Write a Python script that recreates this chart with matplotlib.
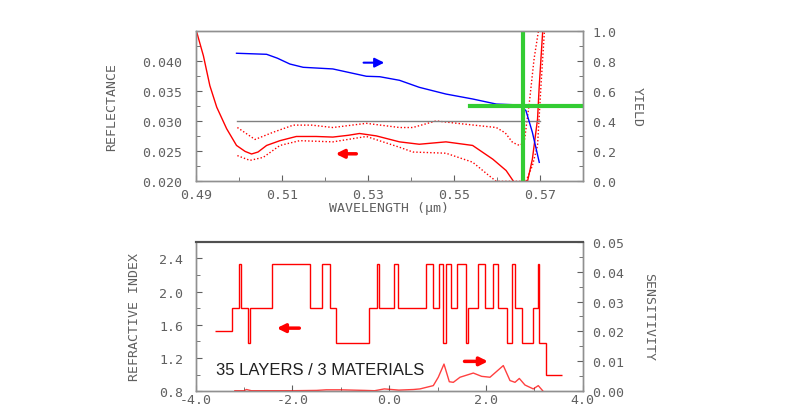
import matplotlib
matplotlib.use("Agg")
import matplotlib.pyplot as plt
from matplotlib.ticker import MultipleLocator, FixedLocator, FormatStrFormatter

# ---- top panel: reflectance / yield vs wavelength ----
wl_main = [0.4898, 0.4918, 0.4933, 0.4949, 0.4972, 0.4995, 0.5015, 0.5030, 0.5045,
           0.5065, 0.5096, 0.5134, 0.5180, 0.5219, 0.5255, 0.5281, 0.5320, 0.5374,
           0.5420, 0.5482, 0.5544, 0.5591, 0.5622, 0.5640, 0.5655, 0.5672, 0.5683,
           0.5695, 0.5699, 0.5707, 0.5750]
refl_main = [0.0460, 0.0409, 0.0359, 0.0323, 0.0287, 0.0259, 0.0249, 0.02447, 0.0248,
             0.0259, 0.0267, 0.0274, 0.0274, 0.0273, 0.0276, 0.0279, 0.0275, 0.0265,
             0.0261, 0.0265, 0.0259, 0.0236, 0.0217, 0.0198, 0.0195, 0.0200, 0.0236,
             0.0303, 0.0359, 0.0450, 0.0450]

wl_upper = [0.4997, 0.5038, 0.5080, 0.5127, 0.5170, 0.5219, 0.5297, 0.5374, 0.5405,
            0.5459, 0.5521, 0.5599, 0.5620, 0.5637, 0.5653, 0.5664, 0.5676, 0.5687,
            0.5697]
refl_upper = [0.0289, 0.0269, 0.0281, 0.0293, 0.0293, 0.0289, 0.0296, 0.0289, 0.0289,
              0.0300, 0.0295, 0.0289, 0.0280, 0.0264, 0.0259, 0.0264, 0.0331, 0.0404,
              0.0450]

wl_lower = [0.4997, 0.5026, 0.5057, 0.5096, 0.5142, 0.5219, 0.5297, 0.5374, 0.5405,
            0.5482, 0.5544, 0.5583, 0.5599, 0.5668, 0.5683, 0.5695, 0.5703, 0.5711]
refl_lower = [0.0242, 0.0234, 0.0239, 0.0259, 0.0267, 0.0265, 0.0274, 0.0256, 0.0248,
              0.0246, 0.0231, 0.0208, 0.0199, 0.0199, 0.0225, 0.0259, 0.0359, 0.0450]

wl_yield = [0.4995, 0.5065, 0.5090, 0.5119, 0.5150, 0.5219, 0.5297, 0.5328, 0.5374,
            0.5420, 0.5482, 0.5544, 0.5599, 0.5653, 0.5668, 0.5683, 0.5699]
yield_vals = [0.853, 0.846, 0.820, 0.781, 0.759, 0.748, 0.699, 0.696, 0.672,
              0.625, 0.580, 0.547, 0.513, 0.507, 0.469, 0.324, 0.123]

target_refl = 0.030
target_wl = [0.4997, 0.5700]
cross_wl = 0.5662
cross_yield = 0.5
cross_span = [0.5538, 0.5800]

wl_ticks = [0.49, 0.51, 0.53, 0.55, 0.57]
wl_minor = [0.50, 0.52, 0.54, 0.56, 0.58]
refl_ticks = [0.020, 0.025, 0.030, 0.035, 0.040]

# ---- bottom panel: index profile / sensitivity ----
layer_edges = [-3.601, -3.256, -3.098, -3.070, -2.912, -2.884, -2.416, -1.637, -1.396,
               -1.224, -1.100, -0.411, -0.259, -0.205, 0.095, 0.188, 0.760, 0.912,
               1.036, 1.105, 1.167, 1.270, 1.394, 1.587, 1.636, 1.829, 1.980, 2.139,
               2.256, 2.428, 2.532, 2.601, 2.739, 2.966, 3.076, 3.104, 3.235, 3.565]
layer_index = [1.52, 1.80, 2.33, 1.80, 1.38, 1.80, 2.33, 1.80, 2.33, 1.80, 1.38, 1.80,
               2.33, 1.80, 2.33, 1.80, 2.33, 1.80, 2.33, 1.38, 2.33, 1.80, 2.33, 1.38,
               1.80, 2.33, 1.80, 2.33, 1.80, 1.38, 2.33, 1.80, 1.38, 1.80, 2.33, 1.38,
               1.00]

sens_x = [-3.19, -3.0, -2.95, -2.85, -2.5, -2.0, -1.5, -1.3, -1.0, -0.5, -0.3, -0.1,
          0.2, 0.5, 0.637, 0.912, 1.015, 1.133, 1.243, 1.326, 1.464, 1.739, 1.912,
          2.084, 2.359, 2.497, 2.601, 2.690, 2.807, 2.979, 3.082, 3.173]
sens_y = [0.0002, 0.0002, 0.0006, 0.0002, 0.0002, 0.0002, 0.0003, 0.0005, 0.0005,
          0.0003, 0.0002, 0.0008, 0.0004, 0.0006, 0.0008, 0.0019, 0.0047, 0.0091,
          0.0032, 0.0030, 0.0047, 0.0061, 0.0050, 0.0047, 0.0086, 0.0036, 0.0030,
          0.0043, 0.0021, 0.0008, 0.0019, 0.0002]

tick_color = "#606060"
mono = "DejaVu Sans Mono"
fs = 9.5

fig = plt.figure(figsize=(7.97, 4.14), dpi=100)
ax1 = fig.add_axes([0.2455, 0.5611, 0.4856, 0.3609])
ax1r = ax1.twinx()
ax2 = fig.add_axes([0.2455, 0.0524, 0.4856, 0.3614])
ax2r = ax2.twinx()


def style(ax, color="#909090"):
    for s in ax.spines.values():
        s.set_color(color)
        s.set_linewidth(1.0)
    ax.tick_params(which="both", direction="in", colors=tick_color, labelsize=fs)
    ax.tick_params(which="major", length=4)
    ax.tick_params(which="minor", length=3)
    for lab in ax.get_xticklabels() + ax.get_yticklabels():
        lab.set_family(mono)


# top panel
ax1.plot(wl_main, refl_main, color="red", lw=1.0)
ax1.plot(wl_upper, refl_upper, color="red", lw=1.0, ls=(0, (1, 1.5)))
ax1.plot(wl_lower, refl_lower, color="red", lw=1.0, ls=(0, (1, 1.5)))
ax1.plot(target_wl, [target_refl, target_refl], color="#808080", lw=1.0)
ax1.set_xlim(0.49, 0.58)
ax1.set_ylim(0.020, 0.045)
ax1.xaxis.set_major_locator(FixedLocator(wl_ticks))
ax1.xaxis.set_minor_locator(FixedLocator(wl_minor))
ax1.xaxis.set_major_formatter(FormatStrFormatter("%.2f"))
ax1.yaxis.set_major_locator(FixedLocator(refl_ticks))
ax1.yaxis.set_minor_locator(MultipleLocator(0.0025))
ax1.yaxis.set_major_formatter(FormatStrFormatter("%.3f"))
ax1.annotate("", xy=(0.5219, 0.0245), xytext=(0.5280, 0.0245),
             arrowprops=dict(arrowstyle="-|>", color="red", lw=2.5, mutation_scale=12))

ax1r.plot(wl_yield, yield_vals, color="blue", lw=1.0)
ax1r.plot([cross_wl, cross_wl], [0, 1.0], color="#33cc33", lw=3)
ax1r.plot(cross_span, [cross_yield, cross_yield], color="#33cc33", lw=3)
ax1r.set_ylim(0, 1.0)
ax1r.yaxis.set_major_locator(MultipleLocator(0.2))
ax1r.yaxis.set_minor_locator(MultipleLocator(0.1))
ax1r.yaxis.set_major_formatter(FormatStrFormatter("%.1f"))
ax1r.annotate("", xy=(0.5345, 0.79), xytext=(0.5284, 0.79),
              arrowprops=dict(arrowstyle="-|>", color="blue", lw=1.5, mutation_scale=14))

style(ax1)
style(ax1r)
ax1.tick_params(axis="y", pad=10)
ax1.tick_params(axis="x", pad=5)
ax1r.tick_params(axis="y", pad=7)

ax1.set_xlabel("WAVELENGTH (\u03bcm)", family=mono, color=tick_color, fontsize=fs, labelpad=0)
ax1.set_ylabel("REFLECTANCE", family=mono, color=tick_color, fontsize=fs, labelpad=17)
ax1r.set_ylabel("YIELD", family=mono, color=tick_color, fontsize=fs, rotation=-90,
                labelpad=20)

# bottom panel
ax2.stairs(layer_index, layer_edges, baseline=None, color="red", lw=1.0)
ax2.set_xlim(-4, 4)
ax2.set_ylim(0.8, 2.6)
ax2.xaxis.set_major_locator(MultipleLocator(2))
ax2.xaxis.set_minor_locator(MultipleLocator(1))
ax2.xaxis.set_major_formatter(FormatStrFormatter("%.1f"))
ax2.yaxis.set_major_locator(MultipleLocator(0.4))
ax2.yaxis.set_minor_locator(MultipleLocator(0.2))
ax2.yaxis.set_major_formatter(FormatStrFormatter("%.1f"))
ax2.annotate("", xy=(-2.38, 1.56), xytext=(-1.80, 1.56),
             arrowprops=dict(arrowstyle="-|>", color="red", lw=2.5, mutation_scale=12))
ax2.text(-3.58, 1.06, "35 LAYERS / 3 MATERIALS", family="Liberation Sans",
         fontsize=12, color="#202020", va="center", ha="left")

ax2r.plot(sens_x, sens_y, color="red", lw=1.0, alpha=0.75)
ax2r.set_ylim(0, 0.05)
ax2r.yaxis.set_major_locator(MultipleLocator(0.01))
ax2r.yaxis.set_minor_locator(MultipleLocator(0.005))
ax2r.yaxis.set_major_formatter(FormatStrFormatter("%.2f"))
ax2r.annotate("", xy=(2.10, 0.010), xytext=(1.50, 0.010),
              arrowprops=dict(arrowstyle="-|>", color="red", lw=2.5, mutation_scale=12))

style(ax2)
style(ax2r)
for a in (ax2, ax2r):
    a.spines["top"].set_color("#505050")
    a.spines["top"].set_linewidth(1.5)
ax2.tick_params(axis="y", pad=9)
ax2.tick_params(axis="x", pad=1)
ax2r.tick_params(axis="y", pad=7)

ax2.set_ylabel("REFRACTIVE INDEX", family=mono, color=tick_color, fontsize=fs, labelpad=13)
ax2r.set_ylabel("SENSITIVITY", family=mono, color=tick_color, fontsize=fs, rotation=-90,
                labelpad=22)

fig.savefig("out.png", dpi=100)
